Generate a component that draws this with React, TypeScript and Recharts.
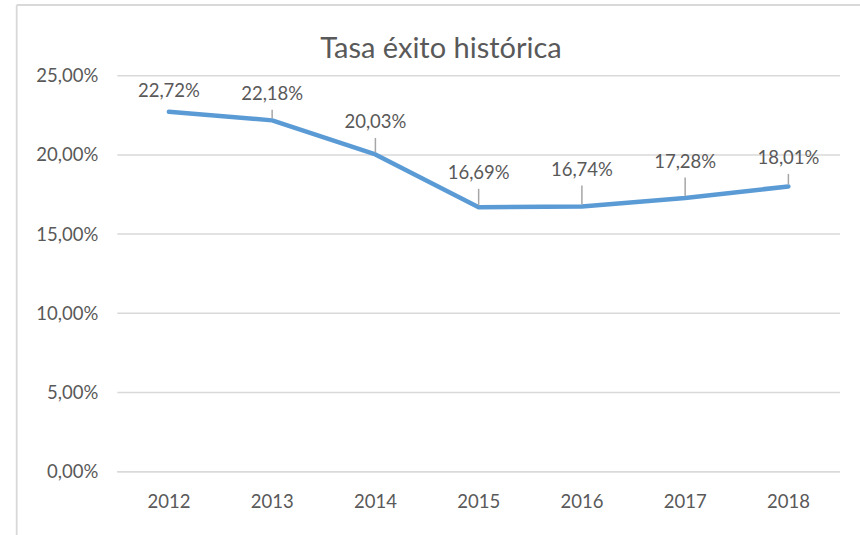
import React from "react";
import { LineChart, Line, XAxis, YAxis, CartesianGrid, LabelList } from "recharts";

const years = ["2012", "2013", "2014", "2015", "2016", "2017", "2018"];
const rates = [0.2272, 0.2218, 0.2003, 0.1669, 0.1674, 0.1728, 0.1801];
const rateLabels = ["22,72%", "22,18%", "20,03%", "16,69%", "16,74%", "17,28%", "18,01%"];
const yTicks = [0, 0.05, 0.1, 0.15, 0.2, 0.25];
const title = "Tasa éxito histórica";

// label lift above each point (layout only)
const labelLift = [21, 27, 33, 35, 37.5, 37, 29];

const data = years.map((y, i) => ({ year: y, rate: rates[i] }));

const FONT = "Lato, 'Open Sans', sans-serif";
const TEXT = "#595959";
const GRID = "#D9D9D9";

const fmtPct = (v: number) => (v * 100).toFixed(2).replace(".", ",") + "%";

const DataLabel = (props: any) => {
  const { x, y, index } = props;
  const lift = labelLift[index];
  const cy = y - lift;
  const showLeader = lift > 25;
  return (
    <g>
      {showLeader && (
        <line x1={x} x2={x} y1={cy + 16.5} y2={y - 2} stroke="#A6A6A6" strokeWidth={1.5} />
      )}
      <text x={x} y={cy + 6.6} textAnchor="middle" fontFamily={FONT} fontSize={18.5} fill={TEXT}>
        {rateLabels[index]}
      </text>
    </g>
  );
};

export default function App() {
  return (
    <div style={{ position: "absolute", left: 0, top: 0, width: 860, height: 535, background: "#fff" }}>
      <div style={{ position: "absolute", left: 0, top: 0 }}>
        <LineChart
          width={860}
          height={535}
          data={data}
          margin={{ top: 75.7, right: 20, bottom: 0, left: 0 }}
        >
          <CartesianGrid vertical={false} stroke={GRID} strokeWidth={1.5} />
          <XAxis
            dataKey="year"
            height={63.3}
            padding={{ left: 51.6, right: 51.6 }}
            axisLine={{ stroke: GRID, strokeWidth: 1.5 }}
            tickLine={false}
            tickSize={0}
            tickMargin={23}
            tick={{ fontFamily: FONT, fontSize: 18.5, fill: TEXT }}
          />
          <YAxis
            width={117.3}
            domain={[0, 0.25]}
            ticks={yTicks}
            tickFormatter={fmtPct}
            axisLine={false}
            tickLine={false}
            tickSize={0}
            tickMargin={19}
            tick={{ fontFamily: FONT, fontSize: 18.5, fill: TEXT }}
          />
          <Line
            type="linear"
            dataKey="rate"
            stroke="#5B9BD5"
            strokeWidth={4.5}
            strokeLinecap="round"
            strokeLinejoin="round"
            dot={false}
            activeDot={false}
            isAnimationActive={false}
          >
            <LabelList dataKey="rate" content={DataLabel} />
          </Line>
        </LineChart>
      </div>
      <svg
        width={860}
        height={535}
        style={{ position: "absolute", left: 0, top: 0, pointerEvents: "none" }}
      >
        <line x1={16.7} x2={860} y1={5} y2={5} stroke={GRID} strokeWidth={1.8} />
        <line x1={16.7} x2={16.7} y1={5} y2={535} stroke={GRID} strokeWidth={1.8} />
        <text x={441} y={58} textAnchor="middle" fontFamily={FONT} fontSize={29} fill={TEXT}>
          {title}
        </text>
      </svg>
    </div>
  );
}
